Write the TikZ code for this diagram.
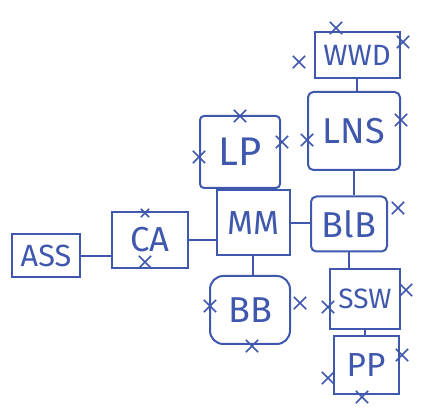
\documentclass[tikz,border=0pt]{standalone}
\usepackage{fontspec}
\setmainfont{Fira Sans}
\usetikzlibrary{shapes.misc}
\definecolor{ink}{HTML}{3F58AD}
\begin{document}
\begin{tikzpicture}[x=0.75pt,y=-0.75pt,
  box/.style={draw=ink,line width=1.5pt,text=ink,inner sep=0pt,align=center},
  xmark/.style={cross out,draw=ink,line width=1.2pt,minimum size=8pt,inner sep=0pt},
  link/.style={draw=ink,line width=1.5pt}]
\useasboundingbox (0,0) rectangle (429,409);
\node[box,minimum width=85*0.75pt,minimum height=46*0.75pt,font=\fontsize{22}{22}\selectfont] (wwd) at (357,55) {WWD};
\node[box,rounded corners=4pt,minimum width=92*0.75pt,minimum height=78*0.75pt,font=\fontsize{27}{27}\selectfont] (lns) at (354,131) {LNS};
\node[box,rounded corners=3pt,minimum width=80*0.75pt,minimum height=72*0.75pt,font=\fontsize{30}{30}\selectfont] (lp) at (240,152) {LP};
\node[box,minimum width=73*0.75pt,minimum height=65*0.75pt,font=\fontsize{25}{25}\selectfont] (mm) at (253,223) {MM};
\node[box,rounded corners=4pt,minimum width=76*0.75pt,minimum height=55*0.75pt,font=\fontsize{27}{27}\selectfont] (blb) at (349,224) {BlB};
\node[box,minimum width=68*0.75pt,minimum height=43*0.75pt,font=\fontsize{23}{23}\selectfont] (ass) at (46,256) {ASS};
\node[box,minimum width=76*0.75pt,minimum height=56*0.75pt,font=\fontsize{26}{26}\selectfont] (ca) at (150,240) {CA};
\node[box,rounded corners=10pt,minimum width=80*0.75pt,minimum height=68*0.75pt,font=\fontsize{27}{27}\selectfont] (bb) at (250,310) {BB};
\node[box,minimum width=70*0.75pt,minimum height=60*0.75pt,font=\fontsize{21}{21}\selectfont] (ssw) at (365,299) {SSW};
\node[box,minimum width=65*0.75pt,minimum height=58*0.75pt,font=\fontsize{25}{25}\selectfont] (pp) at (366,365) {PP};
% connectors
\draw[link] (ass.east) -- (ass.east -| ca.west);
\draw[link] (ca.east) -- (ca.east -| mm.west);
\draw[link] (mm.east) -- (mm.east -| blb.west);
\draw[link] (lp.south) -- (lp.south |- mm.north);
\draw[link] (mm.south) -- (mm.south |- bb.north);
\draw[link] (wwd.south) -- (wwd.south |- lns.north);
\draw[link] (lns.south) -- (lns.south |- blb.north);
\draw[link] (blb.south) -- (blb.south |- ssw.north);
\draw[link] (ssw.south) -- (ssw.south |- pp.north);
% crosses
\node[xmark] (x1) at (336,28) {};
\node[xmark] (x2) at (299,62) {};
\node[xmark] (x3) at (403,42) {};
\node[xmark] (x4) at (307,140) {};
\node[xmark] (x5) at (401,120) {};
\node[xmark] (x6) at (240,116) {};
\node[xmark] (x7) at (199,157) {};
\node[xmark] (x8) at (282,142) {};
\node[xmark] (x9) at (398,208) {};
\node[xmark] (x10) at (145,262) {};
\node[xmark,minimum size=5pt] (x11) at (145,213) {};
\node[xmark] (x12) at (210,306) {};
\node[xmark] (x13) at (300,303) {};
\node[xmark] (x14) at (252,346) {};
\node[xmark] (x15) at (328,307) {};
\node[xmark] (x16) at (406,290) {};
\node[xmark] (x17) at (328,378) {};
\node[xmark] (x18) at (402,355) {};
\node[xmark] (x19) at (362,397) {};
\end{tikzpicture}
\end{document}
